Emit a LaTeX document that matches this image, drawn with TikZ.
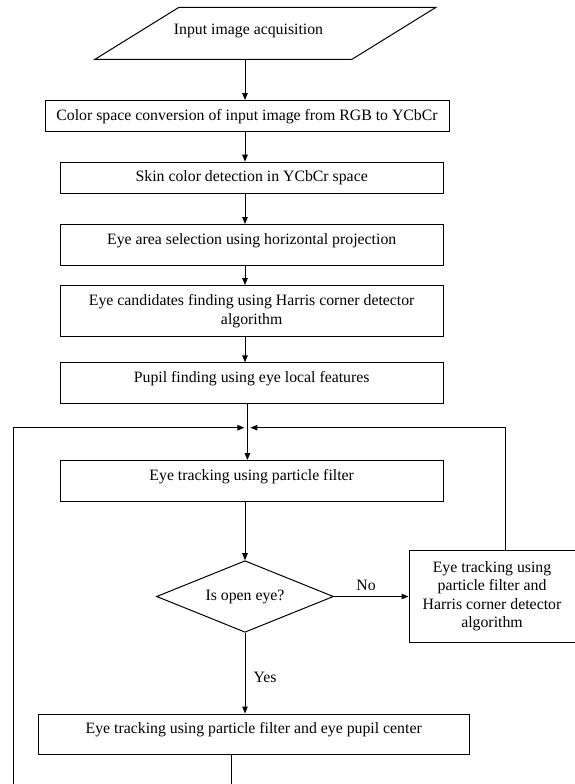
\documentclass[tikz,border=0pt]{standalone}
\usepackage{fontspec}
\setmainfont{Liberation Serif}
\usetikzlibrary{arrows.meta,calc,positioning,shapes.geometric}

\tikzset{
  boxbase/.style={draw,line width=1pt,rectangle,inner sep=0pt,
    font=\fontsize{15.8}{18.5}\selectfont},
  procbox/.style={boxbase,anchor=north,text height=19.6pt,text depth=11.4pt},
  tallbox/.style={boxbase,anchor=north,text height=19.5pt,text depth=21pt},
  twobox/.style={boxbase,anchor=north,align=center,minimum height=51pt},
  sidebox/.style={boxbase,align=center,minimum width=166pt,minimum height=92.3pt},
  iobox/.style={draw,line width=1pt,trapezium,trapezium left angle=31.76,
    trapezium right angle=148.24,inner sep=0pt,
    text width=173pt,text height=52pt,text depth=0pt},
  decision/.style={boxbase,diamond,aspect=2.5,minimum width=177pt,minimum height=71.6pt},
  lbl/.style={inner sep=0pt,font=\fontsize{15.8}{18.5}\selectfont},
  flow/.style={line width=1pt,-{Triangle[length=7pt,width=5.5pt]}},
  link/.style={line width=1pt}
}

\begin{document}
\begin{tikzpicture}[x=1pt,y=-1pt]
\useasboundingbox (0,0) rectangle (574,784);

% main column
\node[iobox] (input) at (265.5,33.3) {};
\node[lbl] (inputtext) at (248.5,30.7) {Input image acquisition};
\node[procbox,minimum width=404pt] (conv) at (247,100)
  {Color space conversion of input image from RGB to YCbCr};
\node[procbox,minimum width=382.6pt] (skin) at (251.7,161.7)
  {Skin color detection in YCbCr space};
\node[tallbox,minimum width=382.6pt] (area) at (251.7,224)
  {Eye area selection using horizontal projection};
\node[twobox,minimum width=382.6pt] (cand) at (251.7,285)
  {Eye candidates finding using Harris corner detector\\algorithm};
\node[tallbox,minimum width=382.6pt] (pupil) at (251.7,362.3)
  {Pupil finding using eye local features};
\node[tallbox,minimum width=382.6pt] (track) at (251.7,460)
  {Eye tracking using particle filter};
\node[decision] (open) at (245,596.5) {Is open eye?};
\node[sidebox] (harris) at (492,596.2)
  {Eye tracking using\\particle filter and\\Harris corner detector\\algorithm};
\node[tallbox,minimum width=430.6pt] (pupiltrack) at (253.7,713.5)
  {Eye tracking using particle filter and eye pupil center};
\node[lbl] (nolabel) at (366,585) {No};
\node[lbl] (yeslabel) at (265,677.3) {Yes};

% helper coordinates
\coordinate (spine) at (245,0);
\coordinate (join) at (247.4,427.7);
\coordinate (loopr) at (505,0);
\coordinate (loopl) at (13.5,784);
\coordinate (tail) at (231.7,784);

% connectors
\draw[flow] (input.south -| spine) -- (conv.north -| spine);
\draw[flow] (conv.south -| spine) -- (skin.north -| spine);
\draw[flow] (skin.south -| spine) -- (area.north -| spine);
\draw[flow] (area.south -| spine) -- (cand.north -| spine);
\draw[flow] (cand.south -| spine) -- (pupil.north -| spine);
\draw[flow] (pupil.south -| join) -- (track.north -| join);
\draw[flow] (track.south -| spine) -- (open.north);
\draw[flow] (open.east) -- (harris.west |- open.east);
\draw[flow] (open.south) -- (pupiltrack.north -| open.south);
\draw[flow] (harris.north -| loopr) |- ([xshift=3pt]join);
\draw[flow] (loopl) |- ([xshift=-3pt]join);
\draw[link] (pupiltrack.south -| tail) -- (tail);
\end{tikzpicture}
\end{document}
